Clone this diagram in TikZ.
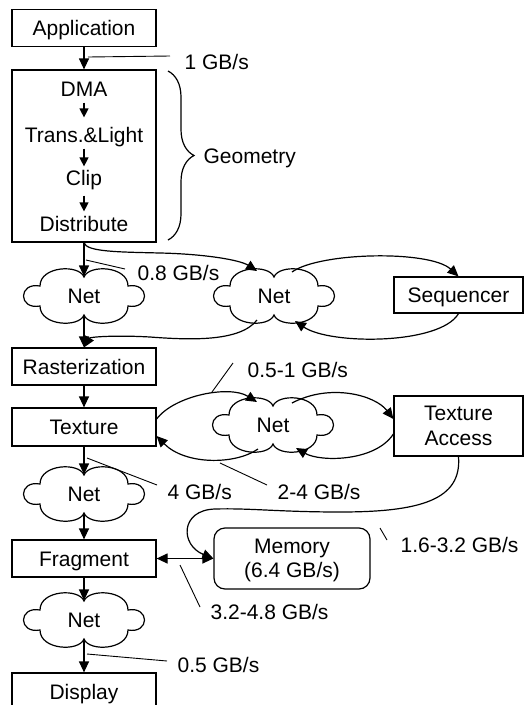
\documentclass[tikz,border=0pt]{standalone}
\usepackage{fontspec}
\setmainfont{Liberation Sans}
\usetikzlibrary{arrows.meta,decorations.pathreplacing,calc}
\newcommand\cloudat[1]{\draw[shift={(#1.center)}] (-44,-10) .. controls (-44,-30) and (-5,-32) .. (0,-19) .. controls (5,-32) and (44,-30) .. (44,-10) .. controls (66,-14) and (66,14) .. (44,10) .. controls (44,30) and (5,32) .. (0,19) .. controls (-5,32) and (-44,30) .. (-44,10) .. controls (-66,14) and (-66,-14) .. (-44,-10) -- cycle;}
\begin{document}
\begin{tikzpicture}[x=1pt,y=-1pt,line width=1.2pt,
  every node/.style={font=\fontsize{21}{24.5}\selectfont},
  txt/.style={inner sep=0pt,text height=15pt,text depth=0pt},
  box/.style={draw,minimum width=144pt,minimum height=37pt,inner sep=0pt,text height=15pt,text depth=0pt},
  rbox/.style={draw,minimum width=129pt,inner sep=0pt,align=center},
  netnode/.style={minimum width=88pt,minimum height=38pt,inner sep=0pt,text height=15pt,text depth=0pt},
  lab/.style={anchor=west,inner sep=0pt,text height=15pt,text depth=0pt},
  arr/.style={-{Triangle[length=11pt,width=10pt]}},
  garr/.style={-{Triangle[length=9pt,width=9pt]}},
  leader/.style={line width=0.9pt}]
\useasboundingbox (0,0) rectangle (525,705);

% left column boxes
\node[box] (app) at (84,28) {Application};
\node[draw,minimum width=144pt,minimum height=172pt,inner sep=0pt] (geom) at (84,156) {};
\node[txt] (dma) at (84,89) {DMA};
\node[txt] (tl) at (84,135) {Trans.\&Light};
\node[txt] (clip) at (84,178) {Clip};
\node[txt] (dist) at (84,224) {Distribute};
\node[box] (rast) at (84,366.5) {Rasterization};
\node[box,minimum height=38pt] (tex) at (84,427) {Texture};
\node[box] (frag) at (84,558.5) {Fragment};
\node[box,minimum height=38pt] (disp) at (84,692) {Display};

% clouds
\node[netnode] (n1) at (84,296) {Net};
\node[netnode] (n2) at (274,296) {Net};
\node[netnode] (n3) at (273,425) {Net};
\node[netnode] (n4) at (84,494) {Net};
\node[netnode] (n5) at (84,620) {Net};
\cloudat{n1}\cloudat{n2}\cloudat{n3}\cloudat{n4}\cloudat{n5}

% right boxes
\node[rbox,minimum height=36pt,text height=15pt,text depth=0pt] (seq) at (458.5,295) {Sequencer};
\node[rbox,minimum height=60pt,text depth=0pt] (ta) at (458.5,426) {Texture\\Access};
\node[draw,rounded corners=11pt,minimum width=156pt,minimum height=61pt,inner sep=0pt,align=center,text depth=0pt] (mem) at (292,558.5) {Memory\\(6.4 GB/s)};

% geometry brace
\coordinate (bt) at (168,71);
\coordinate (bb) at (168,240);
\draw[decorate,decoration={brace,amplitude=26pt}] (bt) -- (bb);
\node[lab] (geomlab) at (203,156) {Geometry};

% labels
\node[lab] (l1) at (184,62) {1 GB/s};
\node[lab] (l08) at (137,273) {0.8 GB/s};
\node[lab] (l051) at (247,370) {0.5-1 GB/s};
\node[lab] (l4) at (167,492) {4 GB/s};
\node[lab] (l24) at (277,492) {2-4 GB/s};
\node[lab] (l16) at (400,545) {1.6-3.2 GB/s};
\node[lab] (l32) at (210,612) {3.2-4.8 GB/s};
\node[lab] (l05) at (177,665) {0.5 GB/s};

% vertical flow
\draw[arr] (app) -- (geom);
\draw[garr] ([yshift=-5.5pt]dma.south) -- ([yshift=9.5pt]tl.north);
\draw[garr] ([yshift=-5.5pt]tl.south) -- ([yshift=3.5pt]clip.north);
\draw[garr] ([yshift=-9.5pt]clip.south) -- ([yshift=4.5pt]dist.north);
\draw[arr] (geom.south) -- (n1.north);
\draw[arr] (n1.south) -- (rast.north);
\draw[arr] (rast) -- (tex);
\draw[arr] (tex.south) -- (n4.north);
\draw[arr] (n4.south) -- (frag.north);
\draw[arr] (frag.south) -- (n5.north);
\draw[arr] (n5.south) -- (disp.north);

% curves
\draw[arr] (geom.south) .. controls (86,252) and (120,252) .. (160,253) .. controls (205,254) and (240,260) .. ($(n2.center)+(-17,-25)$);
\draw[arr] ($(n2.center)+(18,-24)$) .. controls (320,252) and (430,250) .. (seq.north);
\draw[arr] (seq.south) .. controls (440,345) and (330,345) .. ($(n2.center)+(21,25)$);
\draw[arr] ($(n2.center)+(-17,24)$) .. controls (240,342) and (190,340) .. (150,337) .. controls (115,335) and (90,337) .. (rast.north);

\draw[arr] ([yshift=8pt]tex.east) .. controls (175,395) and (230,385) .. ($(n3.center)+(-16,-23)$);
\draw[arr] ($(n3.center)+(19,-22)$) .. controls (330,383) and (375,395) .. ([yshift=7pt]ta.west);
\draw[arr] ([yshift=-8pt]ta.west) .. controls (375,462) and (320,462) .. ($(n3.center)+(23,23)$);
\draw[arr] ($(n3.center)+(-15,24)$) .. controls (235,465) and (185,465) .. ([yshift=-9pt]tex.east);

\draw[arr] (ta.south) .. controls (462,500) and (420,512) .. (340,512) .. controls (280,512) and (250,508) .. (215,509) .. controls (180,510) and (180,545) .. (mem.west);
\draw[{Triangle[length=11pt,width=10pt]}-{Triangle[length=11pt,width=10pt]}] (frag.east) -- (mem.west);

% leader lines
\coordinate (a1) at (88,57);   \coordinate (b1) at (170,56);
\coordinate (a2) at (86,260);  \coordinate (b2) at (125,269);
\coordinate (a3) at (212,392); \coordinate (b3) at (233,363);
\coordinate (a4) at (87,458);  \coordinate (b4) at (157,485);
\coordinate (a5) at (220,463); \coordinate (b5) at (267,485);
\coordinate (a6) at (380,528); \coordinate (b6) at (387,540);
\coordinate (a7) at (180,565); \coordinate (b7) at (200,607);
\coordinate (a8) at (87,654);  \coordinate (b8) at (167,661);
\foreach \i in {1,...,8} {\draw[leader] (a\i) -- (b\i);}
\end{tikzpicture}
\end{document}
